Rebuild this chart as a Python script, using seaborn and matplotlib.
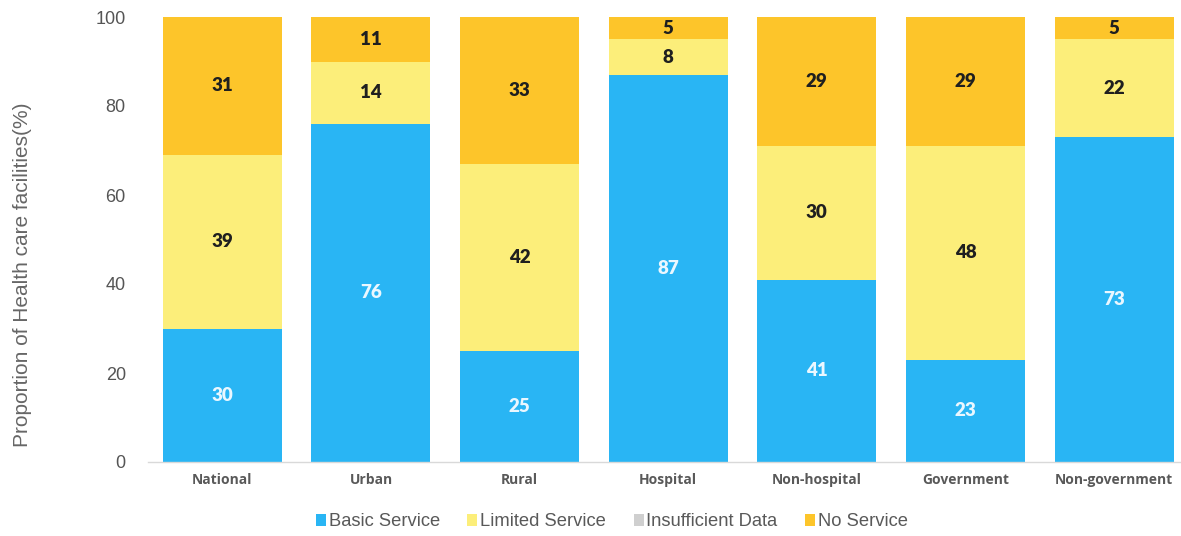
import matplotlib
matplotlib.use("Agg")
import matplotlib.pyplot as plt
import seaborn as sns
import pandas as pd
import numpy as np
from matplotlib.patches import Patch

categories = ["National", "Urban", "Rural", "Hospital", "Non-hospital", "Government", "Non-government"]
basic = [30, 76, 25, 87, 41, 23, 73]
limited = [39, 14, 42, 8, 30, 48, 22]
insufficient = [0, 0, 0, 0, 0, 0, 0]
no_service = [31, 11, 33, 5, 29, 29, 5]

series_names = ["Basic Service", "Limited Service", "Insufficient Data", "No Service"]
colors = ["#29B5F4", "#FCEE7A", "#CFCFCF", "#FDC52A"]

sns.set_theme(style="white")
plt.rcParams["font.family"] = ["Liberation Sans", "DejaVu Sans"]

df = pd.DataFrame({
    "category": categories,
    "basic": basic,
    "limited": limited,
    "insufficient": insufficient,
    "no_service": no_service,
})
df["c1"] = df["basic"]
df["c2"] = df["c1"] + df["limited"]
df["c3"] = df["c2"] + df["insufficient"]
df["c4"] = df["c3"] + df["no_service"]

fig = plt.figure(figsize=(11.81, 5.36), dpi=100)
ax = fig.add_axes([148 / 1181, 1 - 462 / 536, (1181 - 148) / 1181, (462 - 17) / 536])

# stacked bars: draw cumulative totals from the top segment down
for col, color in zip(["c4", "c3", "c2", "c1"], colors[::-1]):
    sns.barplot(data=df, x="category", y=col, color=color, width=0.8,
                saturation=1, ax=ax, linewidth=0)

ax.set_ylim(0, 100)
ax.set_xlim(-0.5, 6.45)
ax.set_yticks([0, 20, 40, 60, 80, 100])
ax.tick_params(axis="y", length=0, pad=16, labelsize=13, labelcolor="#555555")
ax.tick_params(axis="x", length=0, pad=8)
ax.set_xticks(range(len(categories)))
ax.set_xticklabels(categories, fontsize=10, fontweight="bold", color="#595959",
                   family=["Open Sans", "DejaVu Sans"])
ax.set_xlabel("")
ax.set_ylabel("Proportion of Health care facilities(%)", fontsize=15,
              color="#666666")
ax.yaxis.set_label_coords(-0.112, 0.42)

for s in ["top", "right", "left"]:
    ax.spines[s].set_visible(False)
ax.spines["bottom"].set_color("#D9D9D9")
ax.spines["bottom"].set_linewidth(1)

# segment value labels
label_font = ["Lato", "DejaVu Sans"]
for i in range(len(categories)):
    segs = [
        (0, df["c1"][i], basic[i], "#EAF7FF"),
        (df["c1"][i], df["c2"][i], limited[i], "#1F1F1F"),
        (df["c3"][i], min(df["c4"][i], 100), no_service[i], "#1F1F1F"),
    ]
    for lo, hi, val, tc in segs:
        if val > 0:
            ax.text(i, (lo + hi) / 2, f"{val}", ha="center", va="center",
                    fontsize=13.5, fontweight="heavy", color=tc, family=label_font)

handles = [Patch(facecolor=c, edgecolor="none") for c in colors]
fig.legend(handles, series_names, loc="center", bbox_to_anchor=(0.518, 1 - 522 / 536),
           ncol=4, frameon=False, fontsize=13.2, handlelength=0.55, handleheight=0.55,
           handletextpad=0.15, columnspacing=1.5, labelcolor="#595959")

fig.savefig("out.png", dpi=100)
